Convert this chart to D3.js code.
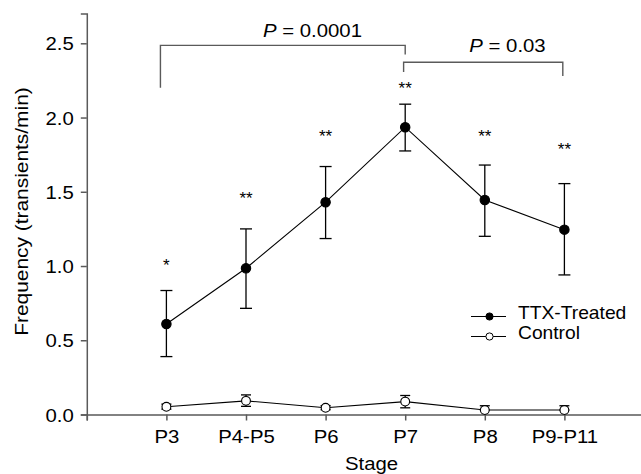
<!DOCTYPE html>
<html><head><meta charset="utf-8">
<script src="https://cdn.jsdelivr.net/npm/d3@7"></script>
<style>body{margin:0;background:#fff}svg{display:block}text{font-family:"Liberation Sans",Arial,Helvetica,sans-serif;fill:#000}</style>
</head><body><svg id="c" width="641" height="474"></svg>
<script>
const categories = ["P3", "P4-P5", "P6", "P7", "P8", "P9-P11"];
const ttxMean  = [0.61, 0.985, 1.43, 1.935, 1.445, 1.245];
const ttxUpper = [0.835, 1.25, 1.67, 2.09, 1.68, 1.555];
const ttxLower = [0.39, 0.715, 1.185, 1.775, 1.2, 0.94];
const ctrlMean  = [0.052, 0.092, 0.045, 0.087, 0.030, 0.030];
const ctrlUpper = [0.070, 0.132, 0.060, 0.128, 0.059, 0.059];
const ctrlLower = [0.036, 0.055, 0.032, 0.045, 0.030, 0.030];
const sigLabels = ["*", "**", "**", "**", "**", "**"];
const sigY = [1.035, 1.485, 1.904, 2.226, 1.904, 1.815];
const yTicks = [0, 0.5, 1.0, 1.5, 2.0, 2.5];
const brackets = [
  {x0: -0.075, x1: 3.0, top: 2.486, left: 2.20, right: 2.425, label: "0.0001", lx: 1.835, ly: 2.544},
  {x0: 2.98, x1: 4.98, top: 2.372, left: 2.306, right: 2.279, label: "0.03", lx: 4.285, ly: 2.443}
];

const SX = 1.1, FS = 18.5;
const svg = d3.select("#c");
const x = d3.scaleLinear().domain([-1, 6]).range([86.8, 644]);
const y = d3.scaleLinear().domain([0, 2.7]).range([414.5, 13.6]);
const axisColor = "#5a5a5a";

// axes
const gy = svg.append("g").attr("transform", "translate(86.8,0)")
  .call(d3.axisLeft(y).tickValues(yTicks).tickFormat(d3.format(".1f")).tickSizeOuter(0).tickSize(6));
const gx = svg.append("g").attr("transform", "translate(0,414.5)")
  .call(d3.axisBottom(x).tickValues([-1, 0, 1, 2, 3, 4, 5]).tickFormat(i => categories[i] || "").tickSizeOuter(0).tickSize(6));
[gy, gx].forEach(g => {
  g.select(".domain").attr("stroke", axisColor).attr("stroke-width", 1.5);
  g.selectAll(".tick line").attr("stroke", axisColor).attr("stroke-width", 1.5);
  g.selectAll("text").attr("font-size", FS).attr("font-family", null).attr("fill", "#000");
});
gy.selectAll(".tick text").attr("x", null).attr("dy", "0.36em")
  .attr("transform", `translate(-13,0) scale(${SX},1)`);
gx.selectAll(".tick text").attr("y", 29).attr("dy", null)
  .attr("transform", `scale(${SX},1)`);

function txt(px, py, s, anchor, size, rot) {
  return svg.append("text")
    .attr("transform", `translate(${px},${py})${rot ? " rotate(" + rot + ")" : ""} scale(${SX},1)`)
    .attr("text-anchor", anchor).attr("font-size", size).text(s);
}
txt(371.5, 470, "Stage", "middle", FS);
txt(27.5, 211.5, "Frequency (transients/min)", "middle", 19, -90);

// brackets
brackets.forEach(b => {
  svg.append("path")
    .attr("d", `M${x(b.x0)},${y(b.left)}V${y(b.top)}H${x(b.x1)}V${y(b.right)}`)
    .attr("fill", "none").attr("stroke", axisColor).attr("stroke-width", 1.4);
  const t = svg.append("text")
    .attr("transform", `translate(${x(b.lx)},${y(b.ly)}) scale(${SX},1)`)
    .attr("text-anchor", "middle").attr("font-size", FS);
  t.append("tspan").attr("font-style", "italic").text("P");
  t.append("tspan").text(" = " + b.label);
});

const idx = d3.range(categories.length);
const line = d3.line().x(i => x(i));

function series(mean, up, lo, filled, r, cap) {
  svg.append("path").datum(idx).attr("d", line.y(i => y(mean[i])))
    .attr("fill", "none").attr("stroke", "#000").attr("stroke-width", 1.1);
  const g = svg.append("g").attr("stroke", "#000").attr("stroke-width", 1.3);
  idx.forEach(i => {
    g.append("line").attr("x1", x(i)).attr("x2", x(i)).attr("y1", y(up[i])).attr("y2", y(lo[i]));
    g.append("line").attr("x1", x(i) - cap).attr("x2", x(i) + cap).attr("y1", y(up[i])).attr("y2", y(up[i]));
    g.append("line").attr("x1", x(i) - cap).attr("x2", x(i) + cap).attr("y1", y(lo[i])).attr("y2", y(lo[i]));
  });
  svg.append("g").selectAll("circle").data(idx).join("circle")
    .attr("cx", i => x(i)).attr("cy", i => y(mean[i])).attr("r", r)
    .attr("fill", filled ? "#000" : "#fff").attr("stroke", "#000").attr("stroke-width", 1.1);
}
series(ttxMean, ttxUpper, ttxLower, true, 4.7, 6);
series(ctrlMean, ctrlUpper, ctrlLower, false, 4.4, 5);

// significance stars
idx.forEach(i => {
  svg.append("text").attr("x", x(i)).attr("y", y(sigY[i]) + 10)
    .attr("text-anchor", "middle").attr("font-size", 17).text(sigLabels[i]);
});

// legend
const legend = [{name: "TTX-Treated", filled: true, ly: 316.5, ty: 318.8},
                {name: "Control", filled: false, ly: 336.5, ty: 338.8}];
legend.forEach(l => {
  svg.append("line").attr("x1", 471).attr("x2", 506).attr("y1", l.ly).attr("y2", l.ly)
    .attr("stroke", "#000").attr("stroke-width", 1.1);
  svg.append("circle").attr("cx", 489.5).attr("cy", l.ly).attr("r", 3.6)
    .attr("fill", l.filled ? "#000" : "#fff").attr("stroke", "#000").attr("stroke-width", 1);
  txt(518, l.ty, l.name, "start", 17.5);
});
</script></body></html>
